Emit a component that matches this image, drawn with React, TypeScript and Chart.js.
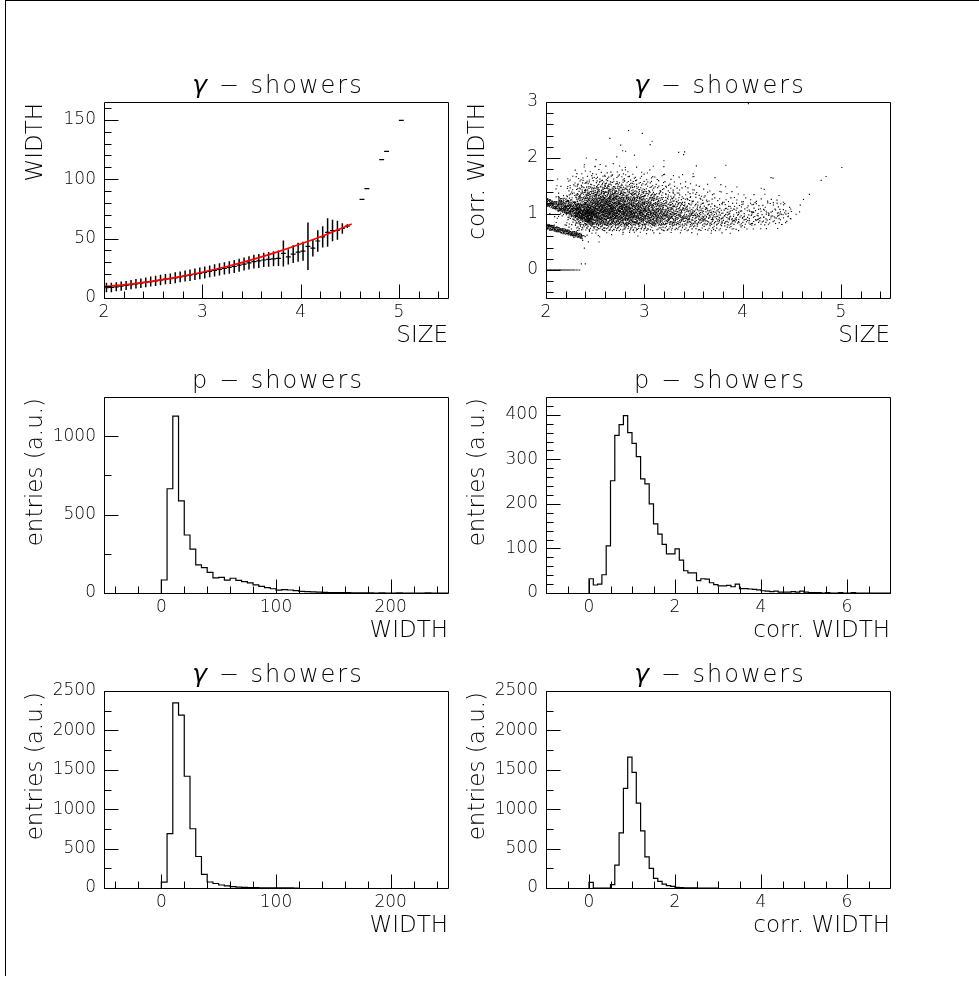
import React, { useEffect, useRef } from "react";
import { Chart, registerables } from "chart.js";

Chart.register(...registerables);

const FONT = '"DejaVu Sans", "Liberation Sans", sans-serif';

// ---------------- Panel 1: profile WIDTH vs SIZE (gamma) ----------------
const profileX = [
  2.025, 2.075, 2.125, 2.175, 2.225, 2.275, 2.325, 2.375, 2.425, 2.475,
  2.525, 2.575, 2.625, 2.675, 2.725, 2.775, 2.825, 2.875, 2.925, 2.975,
  3.025, 3.075, 3.125, 3.175, 3.225, 3.275, 3.325, 3.375, 3.425, 3.475,
  3.525, 3.575, 3.625, 3.675, 3.725, 3.775, 3.825, 3.875, 3.925, 3.975,
  4.025, 4.075, 4.125, 4.175, 4.225, 4.275, 4.325, 4.375, 4.425, 4.475,
  4.625, 4.675, 4.825, 4.875, 5.025,
];
const profileY = [
  8.8, 8.9, 9.4, 10.0, 10.6, 11.3, 11.9, 12.5, 13.2, 13.8,
  14.4, 15.1, 15.9, 16.2, 17.0, 17.8, 18.5, 19.2, 20.0, 20.7,
  21.5, 22.4, 23.3, 24.1, 25.0, 25.7, 26.5, 27.6, 28.6, 29.5,
  30.6, 31.2, 32.0, 32.6, 33.0, 33.4, 37.5, 34.6, 37.0, 38.6,
  39.4, 43.5, 42.0, 48.0, 51.5, 55.2, 56.8, 57.0, 58.5, 60.5,
  83, 92, 116.5, 123.5, 149.5,
];
const profileErr = [
  4.0, 4.0, 3.8, 3.8, 3.8, 3.9, 4.0, 4.0, 4.1, 4.2,
  4.3, 4.4, 4.4, 4.5, 4.6, 4.6, 4.7, 4.8, 4.8, 4.9,
  5.0, 5.0, 5.1, 5.2, 5.2, 5.3, 5.4, 5.5, 5.5, 5.6,
  5.8, 5.9, 6.0, 6.2, 6.3, 6.5, 11, 6.5, 7.5, 8,
  8, 20, 7, 9, 9, 12, 9, 8, 4.5, 1.5,
  0, 0, 0, 0, 0,
];
const profileBinWidth = 0.05;
const fitX = [2.0, 2.25, 2.5, 2.75, 3.0, 3.25, 3.5, 3.75, 4.0, 4.25, 4.52];
const fitY = [9.6, 11.5, 14.2, 17.6, 21.7, 26.5, 32.1, 38.4, 45.4, 53.1, 62.3];

// ---------------- Panel 2: scatter corr. WIDTH vs SIZE ----------------
// dot counts per 0.1 x 0.1 cell
const densityX0 = 2.0;
const densityCell = 0.1;
const densityRowY = [1.9, 1.8, 1.7, 1.6, 1.5, 1.4, 1.3, 1.2, 1.1, 1.0, 0.9, 0.8, 0.7, 0.6, 0.5];
const densityRows = [
  [0, 0, 0, 0, 0, 1, 0, 0, 0, 0, 0, 0, 0, 0, 0, 0, 0, 0, 0, 0, 0, 0, 0, 0, 0, 0],
  [0, 0, 0, 1, 1, 2, 2, 1, 1, 1, 1, 1, 0, 0, 0, 0, 0, 0, 0, 0, 0, 0, 0, 0, 0, 0],
  [0, 0, 1, 2, 3, 3, 3, 3, 3, 2, 2, 1, 1, 1, 1, 0, 0, 0, 0, 0, 0, 0, 0, 0, 0, 0],
  [0, 1, 3, 4, 5, 6, 7, 6, 5, 4, 3, 3, 2, 1, 1, 1, 0, 0, 0, 0, 0, 0, 0, 0, 0, 0],
  [0, 1, 4, 7, 9, 12, 12, 11, 10, 7, 6, 4, 3, 2, 2, 1, 1, 1, 0, 0, 0, 0, 0, 0, 0, 0],
  [0, 2, 6, 12, 16, 20, 20, 18, 15, 12, 10, 7, 5, 4, 3, 2, 2, 1, 1, 1, 0, 0, 0, 0, 0, 0],
  [0, 3, 8, 17, 25, 30, 30, 27, 23, 19, 15, 11, 8, 6, 5, 4, 3, 2, 2, 1, 1, 1, 1, 0, 0, 0],
  [1, 3, 9, 22, 34, 42, 42, 37, 33, 28, 22, 17, 13, 10, 8, 6, 5, 4, 4, 3, 3, 3, 2, 2, 1, 0],
  [2, 5, 12, 28, 42, 52, 52, 47, 42, 37, 31, 25, 19, 15, 12, 10, 8, 7, 6, 6, 5, 4, 4, 4, 3, 1],
  [2, 6, 12, 34, 48, 56, 56, 52, 48, 43, 38, 33, 26, 21, 18, 15, 13, 11, 9, 8, 7, 7, 7, 7, 6, 1],
  [1, 4, 10, 30, 44, 50, 50, 48, 46, 44, 40, 36, 31, 26, 23, 20, 17, 15, 13, 11, 10, 9, 9, 9, 7, 1],
  [1, 2, 6, 20, 34, 36, 35, 34, 32, 31, 29, 26, 23, 21, 18, 16, 15, 14, 12, 11, 9, 8, 7, 6, 3, 0],
  [0, 1, 3, 11, 14, 15, 14, 14, 13, 12, 11, 10, 10, 9, 8, 8, 7, 7, 6, 5, 3, 2, 1, 1, 0, 0],
  [0, 0, 2, 4, 3, 2, 2, 2, 2, 2, 2, 1, 1, 1, 1, 1, 1, 1, 1, 0, 0, 0, 0, 0, 0, 0],
  [0, 0, 1, 2, 1, 1, 0, 0, 0, 0, 0, 0, 0, 0, 0, 0, 0, 0, 0, 0, 0, 0, 0, 0, 0, 0],
];
// dense slanted streaks: start/end point, thickness at start/end, dot count
const bandX0 = [2.0, 2.12, 2.0];
const bandY0 = [1.21, 1.27, 0.78];
const bandX1 = [2.48, 2.5, 2.37];
const bandY1 = [0.92, 1.03, 0.6];
const bandW0 = [0.14, 0.1, 0.1];
const bandW1 = [0.2, 0.12, 0.09];
const bandN = [300, 100, 170];
// dots lying exactly at 0, per 0.05 SIZE bin starting at 2.0
const zeroLineX0 = 2.0;
const zeroLineBin = 0.05;
const zeroLineCounts = [6, 6, 6, 5, 5, 4, 3];
// isolated dots
const outlierX = [2.65, 2.84, 2.98, 2.78, 3.06, 2.39, 4.06, 3.4, 3.83, 4.29, 5.01, 4.85, 4.68, 4.62, 4.19,
  4.37, 3.72, 3.53, 2.40, 2.36, 2.39, 2.54, 2.72, 3.2, 2.9, 3.35, 3.08, 2.76, 2.81, 3.41, 2.41, 4.8, 4.31, 4.22];
const outlierY = [2.35, 2.49, 2.44, 2.13, 2.24, 1.88, 2.97, 2.06, 1.87, 1.65, 1.83, 1.67, 1.35, 1.26, 1.46,
  1.33, 1.65, 1.86, 0.11, 0.11, 0.39, 0.5, 2.02, 1.95, 2.05, 2.1, 2.3, 2.23, 2.12, 2.11, 2.0, 1.6, 1.64, 1.44];

// ---------------- Histograms ----------------
const widthBinStart = 0;
const widthBin = 5;
const pWidthCounts = [83, 665, 1128, 588, 370, 280, 180, 162, 132, 96, 100, 82, 94, 80, 72, 64, 52, 42, 34, 27,
  18, 21, 19, 15, 10, 9, 7, 5, 4, 3, 3, 2, 2, 1, 1, 1, 1, 0, 1, 0, 0, 1, 0, 0, 0, 0, 1, 0, 0, 0];
const gWidthCounts = [75, 690, 2350, 2195, 1418, 752, 400, 174, 76, 57, 38, 27, 17, 12, 8, 5, 4, 3, 2, 2, 1, 1, 1, 0];
const corrBinStart = 0;
const corrBin = 0.1;
const pCorrCounts = [32, 18, 20, 41, 106, 252, 354, 378, 398, 360,
  336, 306, 256, 245, 200, 155, 132, 109, 88, 88,
  99, 74, 50, 45, 45, 28, 32, 31, 23, 19,
  16, 16, 17, 14, 20, 10, 10, 9, 8, 7,
  5, 4, 3, 4, 2, 2, 2, 3, 2, 4,
  2, 1, 1, 1, 0, 1, 0, 0, 1, 0,
  0, 1, 0, 0, 0, 0, 0, 0, 0, 0];
const gCorrCounts = [72, 0, 0, 0, 0, 42, 290, 700, 1264, 1660,
  1467, 1078, 724, 396, 248, 122, 85, 50, 30, 20,
  8, 4, 2, 1, 1, 0, 0, 0, 0, 0];

// ---------------- Axis ticks ----------------
const sizeMajor = [2, 3, 4, 5];
const widthProfMajor = [0, 50, 100, 150];
const corrScatterMajor = [0, 1, 2, 3];
const widthHistMajor = [0, 100, 200];
const corrHistMajor = [0, 2, 4, 6];
const pWidthEntriesMajor = [0, 500, 1000];
const pCorrEntriesMajor = [0, 100, 200, 300, 400];
const gEntriesMajor = [0, 500, 1000, 1500, 2000, 2500];

// ---------------- data builders ----------------
const frac = (v: number) => v - Math.floor(v);
function halton(i: number, b: number) {
  let f = 1;
  let r = 0;
  while (i > 0) {
    f /= b;
    r += f * (i % b);
    i = Math.floor(i / b);
  }
  return r;
}

function buildScatter() {
  const pts: { x: number; y: number }[] = [];
  let cellIdx = 0;
  densityRows.forEach((row, r) => {
    row.forEach((n, c) => {
      cellIdx++;
      const x0 = densityX0 + c * densityCell;
      const y0 = densityRowY[r];
      const su = frac(cellIdx * 0.6180339887);
      const sv = frac(cellIdx * 0.4142135623);
      const off = (cellIdx * 17) % 97;
      for (let k = 1; k <= n; k++) {
        pts.push({
          x: x0 + frac(halton(k + off, 2) + su) * densityCell,
          y: y0 + frac(halton(k + off, 3) + sv) * densityCell,
        });
      }
    });
  });
  bandN.forEach((n, b) => {
    for (let k = 1; k <= n; k++) {
      const t = frac(halton(k + 11 * b, 2) + 0.13 * b);
      const w = halton(k + 11 * b, 3) - 0.5;
      const th = bandW0[b] + (bandW1[b] - bandW0[b]) * t;
      pts.push({
        x: bandX0[b] + t * (bandX1[b] - bandX0[b]),
        y: bandY0[b] + t * (bandY1[b] - bandY0[b]) + w * th,
      });
    }
  });
  zeroLineCounts.forEach((n, j) => {
    for (let k = 0; k < n; k++) {
      pts.push({ x: zeroLineX0 + j * zeroLineBin + ((k + 0.5) / n) * zeroLineBin, y: 0 });
    }
  });
  outlierX.forEach((x, i) => pts.push({ x, y: outlierY[i] }));
  return pts;
}

function buildErrorBars() {
  const pts: { x: number; y: number | null }[] = [];
  profileX.forEach((x, i) => {
    if (profileErr[i] <= 0) return;
    pts.push({ x, y: profileY[i] - profileErr[i] });
    pts.push({ x, y: profileY[i] + profileErr[i] });
    pts.push({ x, y: null });
  });
  return pts;
}

function buildBinBars() {
  const pts: { x: number; y: number | null }[] = [];
  profileX.forEach((x, i) => {
    pts.push({ x: x - profileBinWidth / 2, y: profileY[i] });
    pts.push({ x: x + profileBinWidth / 2, y: profileY[i] });
    pts.push({ x: x + profileBinWidth / 2, y: null });
  });
  return pts;
}

function histPoints(counts: number[], start: number, width: number) {
  const pts = [{ x: start, y: 0 }];
  counts.forEach((c, i) => pts.push({ x: start + i * width, y: c }));
  pts.push({ x: start + counts.length * width, y: 0 });
  return pts;
}

function histDataset(counts: number[], start: number, width: number) {
  return {
    data: histPoints(counts, start, width),
    showLine: true,
    stepped: "before",
    borderColor: "#000",
    borderWidth: 1.2,
    pointRadius: 0,
    fill: false,
  };
}

// ---------------- panel specs ----------------
type AxisSpec = { min: number; max: number; major: number[]; minorStep: number; title: string };
type TitlePart = { t: string; f: string };
type PanelSpec = {
  left: number; top: number; w: number; h: number;
  area: { l: number; t: number; r: number; b: number };
  x: AxisSpec; y: AxisSpec; title: TitlePart[]; datasets: any[];
};

const gammaTitle: TitlePart[] = [
  { t: "γ", f: `italic 300 25px ${FONT}` },
  { t: " − showers", f: `300 24px ${FONT}` },
];
const pTitle: TitlePart[] = [{ t: "p − showers", f: `300 24px ${FONT}` }];

const LEFT_COL = { left: 8, w: 452, l: 104, r: 448 };
const RIGHT_COL = { left: 456, w: 446, l: 546, r: 890 };
const ROWS = [
  { top: 60, h: 292, t: 102, b: 298 },
  { top: 355, h: 292, t: 397, b: 593 },
  { top: 649, h: 293, t: 691, b: 888 },
];
function place(col: typeof LEFT_COL, row: (typeof ROWS)[number]) {
  return { left: col.left, top: row.top, w: col.w, h: row.h, area: { l: col.l, t: row.t, r: col.r, b: row.b } };
}

const panels: PanelSpec[] = [
  {
    ...place(LEFT_COL, ROWS[0]),
    x: { min: 2, max: 5.5, major: sizeMajor, minorStep: 0.2, title: "SIZE" },
    y: { min: 0, max: 165, major: widthProfMajor, minorStep: 10, title: "WIDTH" },
    title: gammaTitle,
    datasets: [
      {
        data: fitX.map((x, i) => ({ x, y: fitY[i] })),
        showLine: true, borderColor: "#ff0000", borderWidth: 1.6, pointRadius: 0,
        cubicInterpolationMode: "monotone",
      },
      { data: buildErrorBars(), showLine: true, spanGaps: false, borderColor: "#000", borderWidth: 1.5, pointRadius: 0 },
      { data: buildBinBars(), showLine: true, spanGaps: false, borderColor: "#000", borderWidth: 1.2, pointRadius: 0 },
    ],
  },
  {
    ...place(RIGHT_COL, ROWS[0]),
    x: { min: 2, max: 5.5, major: sizeMajor, minorStep: 0.2, title: "SIZE" },
    y: { min: -0.5, max: 3, major: corrScatterMajor, minorStep: 0.2, title: "corr. WIDTH" },
    title: gammaTitle,
    datasets: [
      {
        data: buildScatter(), showLine: false, pointStyle: "rect", pointRadius: 0.8,
        pointBackgroundColor: "#000", pointBorderWidth: 0,
      },
    ],
  },
  {
    ...place(LEFT_COL, ROWS[1]),
    x: { min: -50, max: 250, major: widthHistMajor, minorStep: 20, title: "WIDTH" },
    y: { min: 0, max: 1250, major: pWidthEntriesMajor, minorStep: 250, title: "entries (a.u.)" },
    title: pTitle,
    datasets: [histDataset(pWidthCounts, widthBinStart, widthBin)],
  },
  {
    ...place(RIGHT_COL, ROWS[1]),
    x: { min: -1, max: 7, major: corrHistMajor, minorStep: 0.5, title: "corr. WIDTH" },
    y: { min: 0, max: 440, major: pCorrEntriesMajor, minorStep: 20, title: "entries (a.u.)" },
    title: pTitle,
    datasets: [histDataset(pCorrCounts, corrBinStart, corrBin)],
  },
  {
    ...place(LEFT_COL, ROWS[2]),
    x: { min: -50, max: 250, major: widthHistMajor, minorStep: 20, title: "WIDTH" },
    y: { min: 0, max: 2500, major: gEntriesMajor, minorStep: 250, title: "entries (a.u.)" },
    title: gammaTitle,
    datasets: [histDataset(gWidthCounts, widthBinStart, widthBin)],
  },
  {
    ...place(RIGHT_COL, ROWS[2]),
    x: { min: -1, max: 7, major: corrHistMajor, minorStep: 0.5, title: "corr. WIDTH" },
    y: { min: 0, max: 2500, major: gEntriesMajor, minorStep: 250, title: "entries (a.u.)" },
    title: gammaTitle,
    datasets: [histDataset(gCorrCounts, corrBinStart, corrBin)],
  },
];

// ---------------- ROOT-like frame, ticks and titles ----------------
function minorValues(ax: AxisSpec) {
  const out: number[] = [];
  const start = Math.ceil(ax.min / ax.minorStep - 1e-9);
  const end = Math.floor(ax.max / ax.minorStep + 1e-9);
  for (let i = start; i <= end; i++) out.push(+(i * ax.minorStep).toFixed(6));
  return out;
}

function rootPlugin(s: PanelSpec) {
  return {
    id: "rootStyle",
    afterDraw(chart: any) {
      const { ctx, chartArea: a, scales } = chart;
      const xs = scales.x;
      const ys = scales.y;
      ctx.save();
      ctx.strokeStyle = "#000";
      ctx.lineWidth = 1;
      ctx.beginPath();
      const L = Math.round(a.left) + 0.5;
      const T = Math.round(a.top) + 0.5;
      const R = Math.round(a.right) + 0.5;
      const B = Math.round(a.bottom) + 0.5;
      ctx.rect(L, T, R - L, B - T);
      const MAJ = 14;
      const MIN = 7;
      const xTick = (v: number, len: number) => {
        const px = Math.round(xs.getPixelForValue(v)) + 0.5;
        if (px < L - 0.1 || px > R + 0.1) return;
        ctx.moveTo(px, B);
        ctx.lineTo(px, B - len);
      };
      const yTick = (v: number, len: number) => {
        const py = Math.round(ys.getPixelForValue(v)) + 0.5;
        if (py < T - 0.1 || py > B + 0.1) return;
        ctx.moveTo(L, py);
        ctx.lineTo(L + len, py);
      };
      minorValues(s.x).forEach((v) => xTick(v, MIN));
      minorValues(s.y).forEach((v) => yTick(v, MIN));
      s.x.major.forEach((v) => xTick(v, MAJ));
      s.y.major.forEach((v) => yTick(v, MAJ));
      ctx.stroke();

      ctx.fillStyle = "#000";
      // title
      ctx.textBaseline = "alphabetic";
      ctx.textAlign = "left";
      (ctx as any).letterSpacing = "2px";
      let total = 0;
      const widths = s.title.map((p) => {
        ctx.font = p.f;
        const w = ctx.measureText(p.t).width;
        total += w;
        return w;
      });
      let tx = (a.left + a.right) / 2 + 2 - total / 2;
      s.title.forEach((p, i) => {
        ctx.font = p.f;
        ctx.fillText(p.t, tx, a.top - 9);
        tx += widths[i];
      });
      (ctx as any).letterSpacing = "0px";
      // x axis title
      ctx.font = `300 23px ${FONT}`;
      ctx.textAlign = "right";
      ctx.fillText(s.x.title, a.right, a.bottom + 44);
      // y axis title
      ctx.translate(a.left - 62, a.top + 1);
      ctx.rotate(-Math.PI / 2);
      ctx.textAlign = "right";
      ctx.fillText(s.y.title, 0, 0);
      ctx.restore();
    },
  };
}

function buildConfig(s: PanelSpec): any {
  const yWidth = s.area.l - s.left;
  const padRight = s.left + s.w - s.area.r;
  const padTop = s.area.t - s.top;
  const xHeight = s.top + s.h - s.area.b;
  const tickFont = { family: FONT, size: 17, weight: "300" };
  return {
    type: "scatter",
    data: { datasets: s.datasets },
    options: {
      animation: false,
      responsive: false,
      devicePixelRatio: 1,
      events: [],
      layout: { padding: { left: 0, right: padRight, top: padTop, bottom: 0 }, autoPadding: false },
      plugins: { legend: { display: false }, tooltip: { enabled: false }, title: { display: false } },
      scales: {
        x: {
          type: "linear", position: "bottom", min: s.x.min, max: s.x.max,
          grid: { display: false, drawTicks: false }, border: { display: false },
          ticks: {
            font: tickFont, color: "#000", padding: 4, autoSkip: false, maxRotation: 0, minRotation: 0,
            callback: (v: number) => String(v),
          },
          afterBuildTicks: (sc: any) => { sc.ticks = s.x.major.map((v) => ({ value: v })); },
          afterFit: (sc: any) => { sc.height = xHeight; },
        },
        y: {
          type: "linear", position: "left", min: s.y.min, max: s.y.max,
          grid: { display: false, drawTicks: false }, border: { display: false },
          ticks: {
            font: tickFont, color: "#000", padding: 8, autoSkip: false,
            callback: (v: number) => String(v),
          },
          afterBuildTicks: (sc: any) => { sc.ticks = s.y.major.map((v) => ({ value: v })); },
          afterFit: (sc: any) => { sc.width = yWidth; },
        },
      },
    },
    plugins: [rootPlugin(s)],
  };
}

function Panel({ spec }: { spec: PanelSpec }) {
  const ref = useRef<HTMLCanvasElement>(null);
  useEffect(() => {
    const chart = new Chart(ref.current as HTMLCanvasElement, buildConfig(spec));
    return () => chart.destroy();
  }, [spec]);
  return (
    <canvas
      ref={ref}
      width={spec.w}
      height={spec.h}
      style={{ position: "absolute", left: spec.left, top: spec.top, width: spec.w, height: spec.h }}
    />
  );
}

export default function App() {
  return (
    <div style={{ position: "absolute", left: 0, top: 0, width: 979, height: 982, background: "#fff", overflow: "hidden" }}>
      <div
        style={{
          position: "absolute", left: 5, top: 0, width: 974, height: 976,
          borderLeft: "1px solid #000", borderTop: "1px solid #000", boxSizing: "border-box",
        }}
      />
      {panels.map((p, i) => (
        <Panel key={i} spec={p} />
      ))}
    </div>
  );
}
